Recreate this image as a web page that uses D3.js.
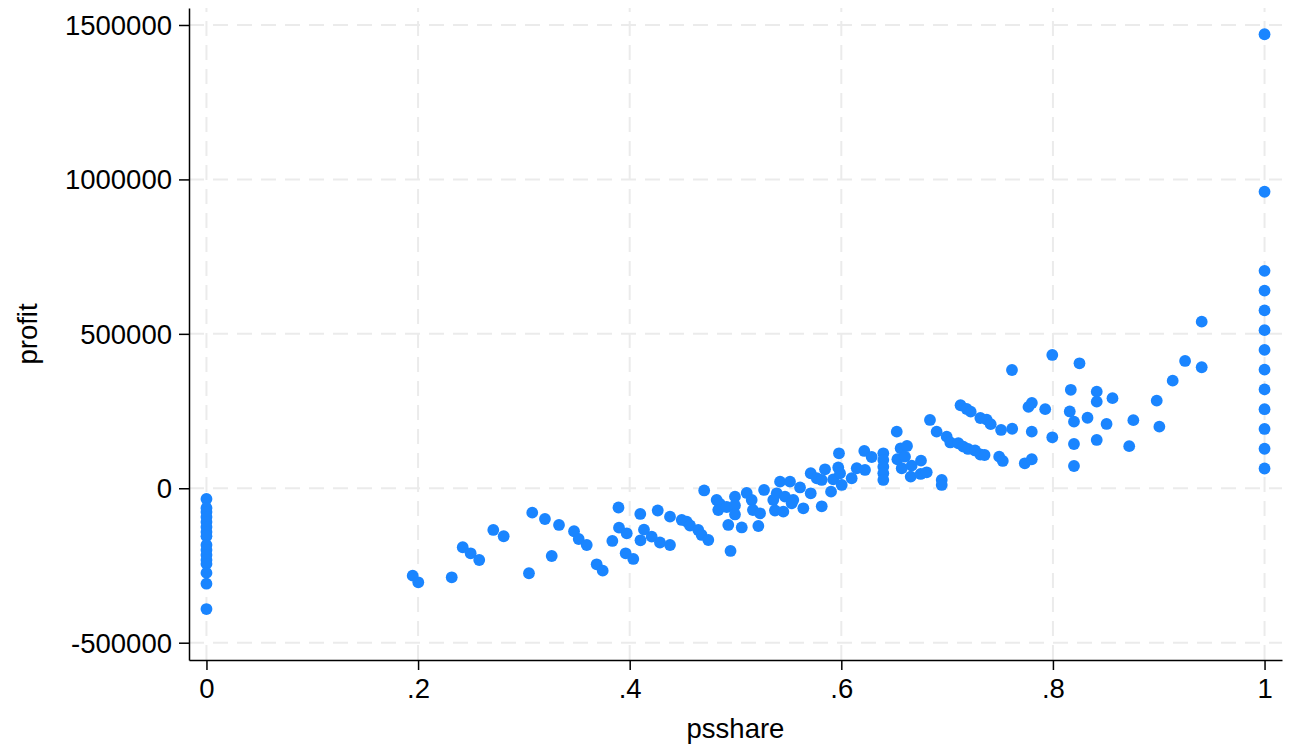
<!DOCTYPE html>
<html>
<head>
<meta charset="utf-8">
<script src="https://cdn.jsdelivr.net/npm/d3@7.9.0/dist/d3.min.js"></script>
<style>
  body { margin: 0; background: #fff; }
  svg { display: block; font-family: "Liberation Sans", Arial, sans-serif; }
</style>
</head>
<body>
<div id="chart"></div>
<script>
const psshare = [
  0, 0, 0, 0, 0, 0, 0, 0, 0, 0, 0, 0, 0, 0, 0, 0,
  1, 1, 1, 1, 1, 1, 1, 1, 1, 1, 1, 1, 1,
  0.1949, 0.2002, 0.2318, 0.2422, 0.2497, 0.2578, 0.2711, 0.2809, 0.3048, 0.3079,
  0.3199, 0.3332, 0.3263, 0.3474, 0.3518, 0.3594, 0.3688, 0.3745, 0.3836, 0.3894,
  0.3899, 0.3972, 0.3962, 0.4034, 0.41, 0.4135, 0.4102, 0.4208, 0.4286, 0.4265,
  0.4381, 0.4381, 0.4492, 0.4539, 0.457, 0.4648, 0.468, 0.4743, 0.4704, 0.4953,
  0.4822, 0.4853, 0.4837, 0.4917, 0.4995, 0.4995, 0.4995, 0.4932, 0.5059, 0.5216,
  0.5106, 0.5153, 0.5165, 0.5232, 0.527, 0.5357, 0.5373, 0.539, 0.5468, 0.5546,
  0.5452, 0.5531, 0.5421, 0.5515, 0.561, 0.5711, 0.5641, 0.5815, 0.5711, 0.5768,
  0.5846, 0.5815, 0.5924, 0.5971, 0.5988, 0.5903, 0.6004, 0.5978, 0.6098, 0.6146,
  0.6224, 0.6217, 0.6287, 0.6397, 0.6397, 0.6397, 0.6397, 0.6397, 0.6524, 0.653,
  0.6561, 0.6621, 0.6602, 0.6571, 0.6665, 0.6753, 0.6656, 0.675, 0.6807, 0.6949,
  0.6949, 0.6838, 0.6901, 0.6996, 0.703, 0.7106, 0.7153, 0.7198, 0.7264, 0.7314,
  0.7354, 0.7492, 0.7526, 0.7734, 0.78, 0.7127, 0.7185, 0.7223, 0.7314, 0.7374,
  0.7412, 0.751, 0.7615, 0.7613, 0.7769, 0.7801, 0.7927, 0.78, 0.7994, 0.7994,
  0.8251, 0.8169, 0.8414, 0.8414, 0.8563, 0.8159, 0.8199, 0.8327, 0.8507, 0.876,
  0.8721, 0.8199, 0.8414, 0.8199, 0.8981, 0.9006, 0.9132, 0.9249, 0.9406, 0.9406
];
const profit = [
  -34600, -63800, -76700, -93000, -109000, -125000, -141500, -155000, -183600, -200000,
  -216000, -232000, -245000, -274000, -309000, -391000,
  1470000, 960000, 704000, 640000, 576000, 512000, 448000, 384000, 320000, 256000,
  192000, 128000, 64000,
  -283000, -304400, -288200, -191000, -210500, -232200, -135000, -155400, -275200, -79000,
  -99400, -118800, -219200, -139200, -164200, -183600, -246100, -266800, -170600, -62200,
  -127600, -145700, -210500, -228900, -83200, -134100, -168400, -156700, -175500, -71900,
  -92000, -183600, -102600, -108100, -120500, -135000, -151200, -167400, -7100, -203000,
  -37900, -50800, -70300, -60600, -27200, -55700, -84800, -118800, -126900, -122100,
  -15200, -37900, -70300, -81000, -5500, -37900, -71900, -16200, -27200, -37900,
  -75800, -48600, 21400, 21400, 2600, -16200, -64800, -58300, 48600, 32400,
  61500, 26900, 29000, 67300, 48600, -11000, 10700, 113300, 32400, 64800,
  59300, 120800, 101300, 113300, 91600, 69900, 48600, 26900, 183300, 93900,
  129500, 137000, 102300, 64800, 73200, 89400, 37600, 46300, 51800, 26900,
  10700, 221200, 183300, 167100, 148300, 145700, 134700, 127300, 122400, 109400,
  107800, 102300, 88400, 80900, 93900, 268800, 256800, 248000, 227600, 222100,
  207600, 188800, 192700, 383000, 263300, 276200, 256100, 183300, 431600, 165100,
  404700, 318900, 312800, 280400, 291700, 248700, 215700, 228300, 208200, 220500,
  136300, 143400, 156400, 72200, 283600, 199500, 348400, 412200, 539500, 391800
];
const xTicks = [0, 0.2, 0.4, 0.6, 0.8, 1];
const yTicks = [-500000, 0, 500000, 1000000, 1500000];
const xTitle = "psshare";
const yTitle = "profit";

const W = 1289, H = 749;
const plot = { left: 189, right: 1282, top: 8, bottom: 660 };
const fontSize = 27.5;
const dotColor = "#1a85ff";
const gridColor = "#ebebeb";

const svg = d3.select("#chart").append("svg")
  .attr("width", W)
  .attr("height", H);

const x = d3.scaleLinear().domain([-0.0165, 1.0165]).range([plot.left, plot.right]);
const y = d3.scaleLinear().domain([-556000, 1555000]).range([plot.bottom, plot.top]);

// dashed grid
svg.append("g")
  .selectAll("line")
  .data(yTicks)
  .join("line")
  .attr("x1", plot.left).attr("x2", plot.right)
  .attr("y1", d => y(d)).attr("y2", d => y(d))
  .attr("stroke", gridColor).attr("stroke-width", 2)
  .attr("stroke-dasharray", "15,9");

svg.append("g")
  .selectAll("line")
  .data(xTicks)
  .join("line")
  .attr("y1", plot.bottom).attr("y2", plot.top)
  .attr("x1", d => x(d)).attr("x2", d => x(d))
  .attr("stroke", gridColor).attr("stroke-width", 2)
  .attr("stroke-dasharray", "15,9");

// points
const points = psshare.map((v, i) => ({ psshare: v, profit: profit[i] }));
svg.append("g")
  .selectAll("circle")
  .data(points)
  .join("circle")
  .attr("cx", d => x(d.psshare))
  .attr("cy", d => y(d.profit))
  .attr("r", 5.9)
  .attr("fill", dotColor);

// axes (stata style: ".2", plain hyphen for negatives)
const fmtX = d => (d === 0 || d === 1) ? String(d) : String(d).replace(/^0/, "");
const fmtY = d => String(d);

const xAxis = svg.append("g")
  .attr("transform", `translate(0,${plot.bottom})`)
  .call(d3.axisBottom(x).tickValues(xTicks).tickFormat(fmtX).tickSize(10).tickSizeOuter(0).tickPadding(8));

const yAxis = svg.append("g")
  .attr("transform", `translate(${plot.left},0)`)
  .call(d3.axisLeft(y).tickValues(yTicks).tickFormat(fmtY).tickSize(10).tickSizeOuter(0).tickPadding(7));

[xAxis, yAxis].forEach(g => {
  g.select(".domain").attr("stroke", "#000").attr("stroke-width", 1.5);
  g.selectAll(".tick line").attr("stroke", "#000").attr("stroke-width", 1.5);
  g.selectAll(".tick text")
    .attr("fill", "#000")
    .style("font-size", fontSize + "px")
    .style("font-family", '"Liberation Sans", Arial, sans-serif');
});
yAxis.selectAll(".tick text").attr("dy", "0.34em");

// axis titles
svg.append("text")
  .attr("x", (plot.left + plot.right) / 2)
  .attr("y", 738)
  .attr("text-anchor", "middle")
  .style("font-size", fontSize + "px")
  .text(xTitle);

svg.append("text")
  .attr("transform", `translate(37,${(plot.top + plot.bottom) / 2}) rotate(-90)`)
  .attr("text-anchor", "middle")
  .style("font-size", fontSize + "px")
  .text(yTitle);
</script>
</body>
</html>
